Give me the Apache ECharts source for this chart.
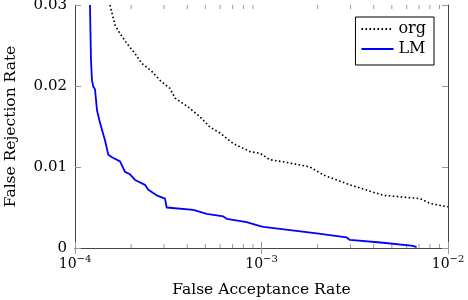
<!DOCTYPE html>
<html><head><meta charset="utf-8">
<script src="https://cdn.jsdelivr.net/npm/echarts@6/dist/echarts.min.js"></script>
<style>html,body{margin:0;padding:0;background:#fff}#c{width:468px;height:300px}</style>
</head><body><div id="c"></div>
<script>
var orgFAR = [1.54e-4,1.64e-4,1.74e-4,1.89e-4,2.10e-4,2.28e-4,2.58e-4,2.86e-4,3.23e-4,3.44e-4,4.05e-4,4.68e-4,5.30e-4,5.99e-4,7.06e-4,8.68e-4,9.82e-4,1.11e-3,1.42e-3,1.82e-3,2.15e-3,2.98e-3,4.50e-3,7.08e-3,8.01e-3,9.84e-3,1.0e-2];
var orgFRR = [0.0300,0.0275,0.0265,0.0253,0.0240,0.0228,0.0218,0.0207,0.0197,0.0185,0.0174,0.0162,0.0149,0.0142,0.0129,0.0119,0.0117,0.0109,0.0105,0.0100,0.0090,0.0078,0.0065,0.0061,0.0055,0.0051,0.0051];
var lmFAR = [1.203e-4,1.21e-4,1.218e-4,1.233e-4,1.254e-4,1.280e-4,1.296e-4,1.312e-4,1.350e-4,1.395e-4,1.448e-4,1.509e-4,1.579e-4,1.743e-4,1.786e-4,1.854e-4,1.972e-4,2.098e-4,2.373e-4,2.471e-4,2.742e-4,3.039e-4,3.102e-4,4.31e-4,5.085e-4,6.24e-4,6.51e-4,8.33e-4,9.82e-4,1.025e-3,1.977e-3,2.86e-3,2.98e-3,4.5e-3,6.49e-3,6.79e-3];
var lmFRR = [0.0300,0.0269,0.0232,0.0207,0.0199,0.0196,0.0183,0.0170,0.0158,0.0146,0.0133,0.0115,0.0112,0.0107,0.0105,0.0094,0.0091,0.0084,0.0078,0.0072,0.0065,0.0061,0.0050,0.0047,0.0042,0.0039,0.0036,0.0032,0.0027,0.0026,0.0018,0.0013,0.0010,0.00065,0.00025,0.0001];
var yTicks = [0, 0.01, 0.02, 0.03];
var minorTicks = [];
[1e-4, 1e-3].forEach(function(d){ for (var k = 2; k <= 9; k++) minorTicks.push(k * d); });

var FONT = 'DejaVu Serif';
var chart = echarts.init(document.getElementById('c'));
function pair(a, b){ return a.map(function(v,i){ return [v, b[i]]; }); }
chart.setOption({
  animation: false,
  textStyle: {fontFamily: FONT},
  grid: {left: 75, right: 20, top: 5, bottom: 52, outerBoundsMode: 'none', containLabel: false},
  legend: {
    right: 34, top: 17, orient: 'vertical', itemWidth: 32, itemHeight: 16, itemGap: 4,
    borderColor: '#000', borderWidth: 1, padding: [4, 8, 8, 5],
    itemStyle: {opacity: 0},
    textStyle: {fontFamily: FONT, fontSize: 16, lineHeight: 16, color: '#000'},
    data: ['org', 'LM']
  },
  xAxis: [{
    type: 'log', logBase: 10, min: 1e-4, max: 1e-2, interval: 1,
    name: 'False Acceptance Rate', nameLocation: 'middle', nameGap: 34,
    nameTextStyle: {fontFamily: FONT, fontSize: 15.5, color: '#000'},
    axisLine: {lineStyle: {color: '#444', width: 1}},
    axisTick: {inside: true, length: 6, lineStyle: {color: '#999'}},
    splitLine: {show: false},
    axisLabel: {
      margin: 6,
      formatter: function(v){ return '{b|10}{s|\u2212' + Math.abs(Math.round(Math.log10(v))) + '}'; },
      rich: {
        b: {fontFamily: FONT, fontSize: 14, color: '#000'},
        s: {fontFamily: FONT, fontSize: 10, color: '#000', padding: [0, 0, 10, 0]}
      }
    }
  }, {
    type: 'log', logBase: 10, min: 1e-4, max: 1e-2, interval: 1, position: 'top',
    axisLine: {show: true, lineStyle: {color: '#444', width: 1}},
    axisTick: {inside: true, length: 6, lineStyle: {color: '#999'}},
    axisLabel: {show: false}, splitLine: {show: false}
  }],
  yAxis: [{
    type: 'value', min: 0, max: 0.03, interval: 0.01,
    name: 'False Rejection Rate', nameLocation: 'middle', nameGap: 56,
    nameTextStyle: {fontFamily: FONT, fontSize: 15.5, color: '#000'},
    axisLine: {show: true, lineStyle: {color: '#444', width: 1}},
    axisTick: {show: true, inside: true, length: 6, lineStyle: {color: '#999'}},
    splitLine: {show: false},
    axisLabel: {fontFamily: FONT, fontSize: 15, color: '#000', margin: 8,
      formatter: function(v){ return yTicks.indexOf(v) >= 0 ? String(v) : ''; }}
  }, {
    type: 'value', min: 0, max: 0.03, interval: 0.01, position: 'right',
    axisLine: {show: true, lineStyle: {color: '#444', width: 1}},
    axisTick: {show: true, inside: true, length: 6, lineStyle: {color: '#999'}},
    axisLabel: {show: false}, splitLine: {show: false}
  }],
  series: [{
    name: 'org', type: 'line', data: pair(orgFAR, orgFRR), symbol: 'none',
    itemStyle: {color: '#000'},
    lineStyle: {color: '#000', width: 1.6, type: [1.6, 2.4]}
  }, {
    name: 'LM', type: 'line', data: pair(lmFAR, lmFRR), symbol: 'none',
    itemStyle: {color: '#0000ff'},
    lineStyle: {color: '#0000ff', width: 1.8}
  }, {
    type: 'custom', silent: true, clip: false,
    data: minorTicks.map(function(v){ return [v]; }),
    renderItem: function(params, api){
      var v = api.value(0);
      var b = api.coord([v, 0]);
      var t = api.coord([v, 0.03]);
      var st = {stroke: '#999', lineWidth: 1};
      return {type: 'group', children: [
        {type: 'line', shape: {x1: b[0], y1: b[1], x2: b[0], y2: b[1] - 4}, style: st},
        {type: 'line', shape: {x1: t[0], y1: t[1], x2: t[0], y2: t[1] + 4}, style: st}
      ]};
    }
  }]
});
</script></body></html>
